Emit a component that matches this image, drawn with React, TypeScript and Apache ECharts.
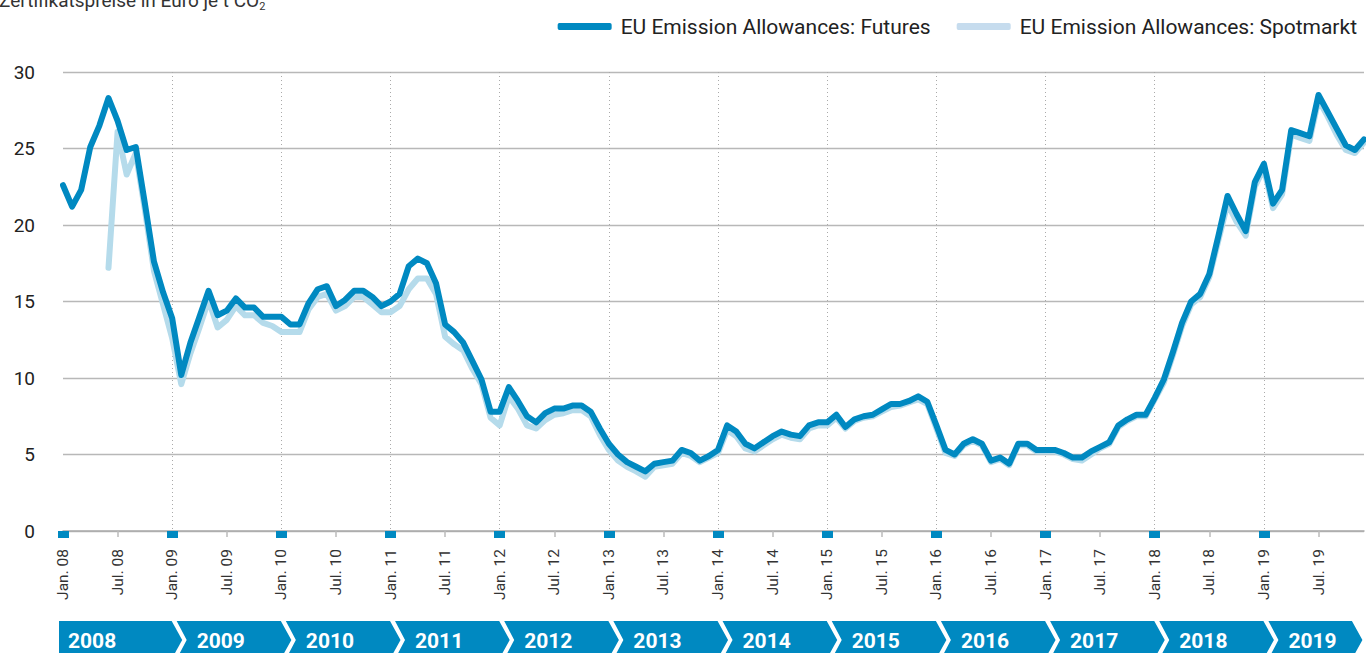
import React, { useEffect, useRef } from 'react';
import * as echarts from 'echarts';

const YEARS = ['2008', '2009', '2010', '2011', '2012', '2013', '2014', '2015', '2016', '2017', '2018', '2019'];
const MONTHS = ['Jan.', 'Feb.', 'Mär.', 'Apr.', 'Mai', 'Jun.', 'Jul.', 'Aug.', 'Sep.', 'Okt.', 'Nov.', 'Dez.'];
const Y_TICKS = [0, 5, 10, 15, 20, 25, 30];

const SERIES_FUTURES = 'EU Emission Allowances: Futures';
const SERIES_SPOT = 'EU Emission Allowances: Spotmarkt';

// Monthly values, Jan 2008 – Dec 2019 (one row per year)
const FUTURES = [
  22.6, 21.2, 22.3, 25.1, 26.5, 28.3, 26.8, 24.9, 25.1, 21.4, 17.6, 15.6,
  13.9, 10.2, 12.3, 14.0, 15.7, 14.1, 14.4, 15.2, 14.6, 14.6, 14.0, 14.0,
  14.0, 13.5, 13.5, 14.9, 15.8, 16.0, 14.7, 15.1, 15.7, 15.7, 15.3, 14.7,
  15.0, 15.5, 17.3, 17.8, 17.5, 16.2, 13.5, 13.0, 12.3, 11.1, 9.9, 7.8,
  7.8, 9.4, 8.5, 7.5, 7.1, 7.7, 8.0, 8.0, 8.2, 8.2, 7.8, 6.7,
  5.7, 5.0, 4.5, 4.2, 3.9, 4.4, 4.5, 4.6, 5.3, 5.1, 4.6, 4.9,
  5.3, 6.9, 6.5, 5.7, 5.4, 5.8, 6.2, 6.5, 6.3, 6.2, 6.9, 7.1,
  7.1, 7.6, 6.8, 7.3, 7.5, 7.6, 7.95, 8.3, 8.3, 8.5, 8.8, 8.45,
  6.9, 5.3, 5.0, 5.7, 6.0, 5.7, 4.6, 4.8, 4.4, 5.7, 5.7, 5.3,
  5.3, 5.3, 5.1, 4.8, 4.8, 5.2, 5.5, 5.8, 6.9, 7.3, 7.6, 7.6,
  8.7, 9.9, 11.7, 13.6, 15.0, 15.5, 16.8, 19.3, 21.9, 20.7, 19.6, 22.8,
  24.0, 21.4, 22.3, 26.2, 26.0, 25.8, 28.5, 27.4, 26.3, 25.2, 24.9, 25.6,
];

const SPOT = [
  null, null, null, null, null, 17.2, 26.1, 23.3, 24.7, 21.0, 17.0, 14.8,
  12.6, 9.6, 11.6, 13.3, 15.1, 13.3, 13.8, 14.7, 14.1, 14.1, 13.6, 13.4,
  13.0, 13.0, 13.0, 14.5, 15.3, 15.5, 14.4, 14.7, 15.3, 15.3, 14.8, 14.3,
  14.3, 14.7, 15.8, 16.5, 16.5, 15.5, 12.7, 12.2, 11.8, 10.6, 9.6, 7.4,
  6.9, 8.8, 8.0, 6.9, 6.7, 7.25, 7.6, 7.7, 7.9, 7.9, 7.5, 6.3,
  5.3, 4.6, 4.2, 3.9, 3.55, 4.2, 4.3, 4.4, 5.1, 4.9, 4.5, 4.8,
  5.1, 6.6, 6.2, 5.4, 5.2, 5.6, 6.0, 6.3, 6.1, 6.0, 6.7, 6.9,
  6.9, 7.4, 6.7, 7.2, 7.4, 7.5, 7.8, 8.1, 8.2, 8.4, 8.6, 8.3,
  6.7, 5.1, 4.9, 5.6, 5.9, 5.6, 4.5, 4.7, 4.3, 5.6, 5.6, 5.2,
  5.2, 5.2, 5.0, 4.7, 4.6, 5.0, 5.4, 5.7, 6.8, 7.2, 7.5, 7.5,
  8.6, 9.7, 11.5, 13.4, 14.8, 15.3, 16.6, 19.0, 21.4, 20.2, 19.3, 22.5,
  23.7, 21.1, 22.0, 25.9, 25.7, 25.5, 28.2, 27.1, 25.9, 24.9, 24.7, 25.4,
];

const CATEGORIES = YEARS.flatMap((y) => MONTHS.map((m) => `${m} ${y.slice(2)}`));

const BLUE = '#0089c1';
const LIGHT = '#b5dbeb';
const FONT = 'Roboto, "Liberation Sans", sans-serif';

export default function App() {
  const ref = useRef<HTMLDivElement>(null);

  useEffect(() => {
    if (!ref.current) return;
    const chart = echarts.init(ref.current, null, { renderer: 'svg' });
    chart.setOption({
      animation: false,
      textStyle: { fontFamily: FONT },
      grid: { left: 63, right: 2, top: 72, bottom: 122, containLabel: false },
      legend: {
        right: 4,
        top: 11,
        itemGap: 26,
        itemWidth: 54,
        itemHeight: 7,
        icon: 'roundRect',
        textStyle: { fontSize: 21, color: '#222', fontFamily: FONT, padding: [0, 0, 0, 4] },
        data: [
          { name: SERIES_FUTURES },
          { name: SERIES_SPOT, itemStyle: { color: '#c6dcee' } },
        ],
      },
      xAxis: [
        {
          type: 'category',
          data: CATEGORIES,
          boundaryGap: false,
          axisLine: { show: true, lineStyle: { color: '#aaaaaa', width: 1.5 } },
          axisTick: {
            show: true,
            interval: (i: number) => i % 12 === 6,
            length: 6,
            lineStyle: { color: '#bbbbbb', width: 1.5 },
          },
          axisLabel: {
            interval: (i: number) => i % 6 === 0,
            rotate: 90,
            margin: 18,
            fontSize: 15.5,
            color: '#333',
            fontFamily: FONT,
          },
          splitLine: {
            show: true,
            interval: (i: number) => i % 12 === 0 && i > 0,
            lineStyle: { color: '#aaaaaa', type: [1, 3], width: 1 },
          },
        },
        {
          type: 'category',
          data: CATEGORIES,
          boundaryGap: false,
          position: 'bottom',
          axisLine: { show: false },
          axisLabel: { show: false },
          splitLine: { show: false },
          axisTick: {
            show: true,
            interval: (i: number) => i % 12 === 0,
            length: 7,
            lineStyle: { color: BLUE, width: 11, cap: 'butt' },
          },
        },
      ],
      yAxis: {
        type: 'value',
        min: 0,
        max: 30,
        interval: 5,
        axisLine: { show: false },
        axisTick: { show: false },
        axisLabel: {
          margin: 28,
          fontSize: 19,
          color: '#222',
          fontFamily: FONT,
          formatter: (v: number) => (Y_TICKS.includes(v) ? String(v) : ''),
        },
        splitLine: { show: true, lineStyle: { color: '#b8b8b8', width: 1.3 } },
      },
      series: [
        {
          name: SERIES_SPOT,
          type: 'line',
          data: SPOT,
          showSymbol: false,
          symbol: 'none',
          connectNulls: false,
          color: LIGHT,
          lineStyle: { color: LIGHT, width: 6, cap: 'round', join: 'round' },
          z: 2,
        },
        {
          name: SERIES_FUTURES,
          type: 'line',
          data: FUTURES,
          showSymbol: false,
          symbol: 'none',
          color: BLUE,
          lineStyle: { color: BLUE, width: 6, cap: 'round', join: 'round' },
          z: 3,
        },
      ],
    });

    const janX = YEARS.map((_, k) => chart.convertToPixel({ xAxisIndex: 0 }, k * 12) as number);
    const top = 621;
    const mid = 640;
    const bot = 659;
    const graphics: any[] = [
      {
        type: 'text',
        left: -1,
        top: -9,
        style: {
          text: '{a|Zertifikatspreise in Euro je t CO}{b|2}',
          rich: {
            a: { fontSize: 19, fill: '#333', fontFamily: FONT },
            b: { fontSize: 11, fill: '#333', fontFamily: FONT, padding: [11, 0, 0, 0] },
          },
        },
      },
    ];
    YEARS.forEach((y, k) => {
      const lTop = k === 0 ? 59 : janX[k] + 4.5;
      const lMid = k === 0 ? 59 : janX[k] + 14.5;
      const rTop = k < YEARS.length - 1 ? janX[k + 1] - 0.5 : janX[k] + 88;
      const rMid = rTop + 10.5;
      graphics.push({
        type: 'polygon',
        shape: {
          points: [
            [lTop, top],
            [rTop, top],
            [rMid, mid],
            [rTop, bot],
            [lTop, bot],
            [lMid, mid],
          ],
        },
        style: { fill: BLUE },
        silent: true,
      });
      graphics.push({
        type: 'text',
        x: k === 0 ? 68 : janX[k] + 24.5,
        y: 641,
        style: {
          text: y,
          fill: '#ffffff',
          fontSize: 21,
          fontWeight: 'bold',
          fontFamily: FONT,
          verticalAlign: 'middle',
          align: 'left',
        },
        silent: true,
      });
    });
    chart.setOption({ graphic: graphics });

    return () => chart.dispose();
  }, []);

  return (
    <div
      ref={ref}
      style={{ position: 'fixed', left: 0, top: 0, width: 1366, height: 653, background: '#fff' }}
    />
  );
}
